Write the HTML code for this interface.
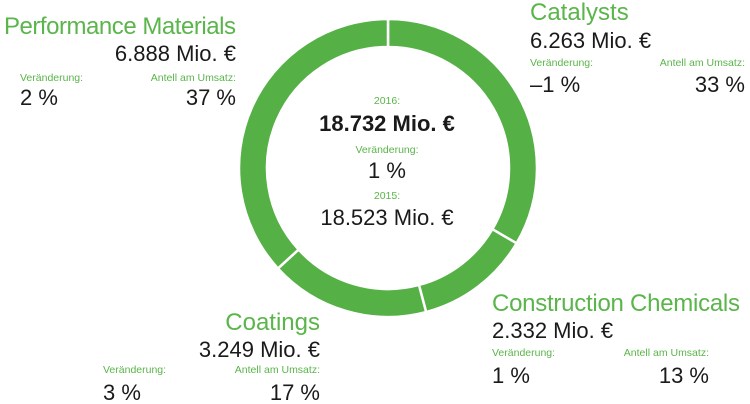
<!DOCTYPE html>
<html><head><meta charset="utf-8"><style>
html,body{margin:0;padding:0;background:#fff;width:750px;height:404px;overflow:hidden}
svg{display:block;font-family:"Liberation Sans",Arial,sans-serif}
.t{fill:#5ab54a;font-size:24px}
.v{fill:#1a1a1a;font-size:22px}
.s{fill:#5ab54a;font-size:10.5px}
</style></head><body>
<svg width="750" height="404" viewBox="0 0 750 404">
<g id="slices"></g>
<g text-anchor="middle">
<text x="387" y="104" class="s">2016:</text>
<text x="387" y="131" class="v" font-weight="bold">18.732 Mio. €</text>
<text x="387" y="153" class="s">Veränderung:</text>
<text x="387" y="178" class="v">1 %</text>
<text x="387" y="199" class="s">2015:</text>
<text x="387" y="225" class="v">18.523 Mio. €</text>
</g>
<g>
<text x="4" y="34" class="t" textLength="232">Performance Materials</text>
<text x="236" y="61" class="v" text-anchor="end">6.888 Mio. €</text>
<text x="20" y="81" class="s">Veränderung:</text>
<text x="236" y="81" class="s" text-anchor="end">Antell am Umsatz:</text>
<text x="20" y="105" class="v">2 %</text>
<text x="236" y="105" class="v" text-anchor="end">37 %</text>
</g>
<g>
<text x="530" y="20" class="t">Catalysts</text>
<text x="530" y="48" class="v">6.263 Mio. €</text>
<text x="530" y="66" class="s">Veränderung:</text>
<text x="745" y="66" class="s" text-anchor="end">Antell am Umsatz:</text>
<text x="530" y="92" class="v">–1 %</text>
<text x="745" y="92" class="v" text-anchor="end">33 %</text>
</g>
<g>
<text x="492" y="311" class="t" textLength="248">Construction Chemicals</text>
<text x="492" y="338" class="v">2.332 Mio. €</text>
<text x="492" y="356" class="s">Veränderung:</text>
<text x="709" y="356" class="s" text-anchor="end">Antell am Umsatz:</text>
<text x="492" y="383" class="v">1 %</text>
<text x="709" y="383" class="v" text-anchor="end">13 %</text>
</g>
<g>
<text x="320" y="330" class="t" text-anchor="end">Coatings</text>
<text x="320" y="357" class="v" text-anchor="end">3.249 Mio. €</text>
<text x="103" y="373" class="s">Veränderung:</text>
<text x="320" y="373" class="s" text-anchor="end">Antell am Umsatz:</text>
<text x="103" y="400" class="v">3 %</text>
<text x="320" y="400" class="v" text-anchor="end">17 %</text>
</g>
</svg>
<script>
const segments = ["Catalysts", "Construction Chemicals", "Coatings", "Performance Materials"];
const revenues = [6263, 2332, 3249, 6888];
(function(){
  const cx = 388, cy = 168, R = 149, r = 121;
  const g = document.getElementById('slices');
  const total = revenues.reduce((a, b) => a + b, 0);
  const pt = (a, rad) => [cx + rad * Math.sin(a), cy - rad * Math.cos(a)];
  let start = 0;
  revenues.forEach((v, i) => {
    const end = start + v / total * 2 * Math.PI;
    const large = (end - start) > Math.PI ? 1 : 0;
    const p1 = pt(start, R), p2 = pt(end, R), p3 = pt(end, r), p4 = pt(start, r);
    const p = document.createElementNS('http://www.w3.org/2000/svg', 'path');
    p.setAttribute('d', `M${p1[0]},${p1[1]} A${R},${R} 0 ${large} 1 ${p2[0]},${p2[1]} L${p3[0]},${p3[1]} A${r},${r} 0 ${large} 0 ${p4[0]},${p4[1]} Z`);
    p.setAttribute('fill', '#55b146');
    p.setAttribute('stroke', '#fff');
    p.setAttribute('stroke-width', '2.5');
    
    
    g.appendChild(p);
    start = end;
  });
})();
</script>
</body></html>
